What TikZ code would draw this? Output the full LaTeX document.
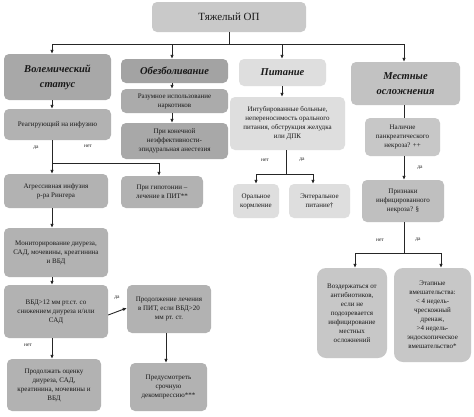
\documentclass[tikz,border=0pt]{standalone}
\usepackage{fontspec}
\setmainfont{Liberation Serif}
\usetikzlibrary{arrows.meta}
\begin{document}
\begin{tikzpicture}[x=1pt,y=-1pt,
  box/.style={draw=none, rounded corners=5pt, inner sep=0pt, align=center,
    font=\fontsize{7}{9}\selectfont, text=black!90},
  head/.style={box, font=\fontsize{10.5}{15}\selectfont\bfseries\itshape},
  ln/.style={draw=black!85, line width=0.9pt},
  arr/.style={ln, -{Latex[length=4pt,width=3.6pt]}},
  lab/.style={font=\fontsize{5.5}{6}\selectfont, inner sep=0pt, text=black!85}]
\useasboundingbox (0,0) rectangle (474,416);
\fill[white] (0,0) rectangle (474,416);
% boxes
\node[box, fill=black!21, minimum width=154, minimum height=30, font=\fontsize{11}{13}\selectfont] (top) at (229,17) {Тяжелый ОП};
\node[head, fill=black!34, minimum width=107, minimum height=46] (vol) at (57.5,77) {Волемический\\статус};
\node[head, fill=black!36, minimum width=107, minimum height=24] (obez) at (174.5,71) {Обезболивание};
\node[head, fill=black!13, minimum width=87, minimum height=27] (pit) at (282.5,72.5) {Питание};
\node[head, fill=black!24, minimum width=109, minimum height=43] (mest) at (405.5,83.5) {Местные\\осложнения};
\node[box, fill=black!30, minimum width=107, minimum height=31] (reag) at (57.5,124.5) {Реагирующий на инфузию};
\node[box, fill=black!33, minimum width=107, minimum height=24] (razum) at (174.5,101) {Разумное использование\\наркотиков};
\node[box, fill=black!34, minimum width=107, minimum height=36] (prikon) at (174.5,141) {При конечной\\неэффективности-\\эпидуральная анестезия};
\node[box, fill=black!30, minimum width=104, minimum height=34] (agr) at (56,191) {Агрессивная инфузия\\р-ра Рингера};
\node[box, fill=black!30, minimum width=82, minimum height=32] (gipo) at (162,192) {При гипотонии –\\лечение в ПИТ**};
\node[box, fill=black!30, minimum width=104, minimum height=49] (mon) at (56,252.5) {Мониторирование диуреза,\\САД, мочевины, креатинина\\и ВБД};
\node[box, fill=black!30, minimum width=104, minimum height=53] (vbd) at (56,311.5) {ВБД>12 мм рт.ст. со\\снижением диуреза и/или\\САД};
\node[box, fill=black!30, minimum width=84, minimum height=48] (prod) at (169,309) {Продолжение лечения\\в ПИТ, если ВБД>20\\мм рт. ст.};
\node[box, fill=black!30, minimum width=94, minimum height=52] (ocen) at (54,385) {Продолжать оценку\\диуреза, САД,\\креатинина, мочевины и\\ВБД};
\node[box, fill=black!30, minimum width=77, minimum height=48] (dek) at (168.5,387) {Предусмотреть\\срочную\\декомпрессию***};
\node[box, fill=black!13, minimum width=115, minimum height=53] (intub) at (287.5,123.5) {Интубированные больные,\\непереносимость орального\\питания, обструкция желудка\\или ДПК};
\node[box, fill=black!13, minimum width=46, minimum height=34] (oral) at (256,201) {Оральное\\кормление};
\node[box, fill=black!13, minimum width=61, minimum height=34] (ent) at (319.5,201) {Энтеральное\\питание†};
\node[box, fill=black!22, minimum width=75, minimum height=38] (nal) at (402.5,137) {Наличие\\панкреатического\\некроза? ++};
\node[box, fill=black!25, minimum width=82, minimum height=42] (priz) at (403,201) {Признаки\\инфицированного\\некроза? §};
\node[box, fill=black!22, minimum width=70, minimum height=90, rounded corners=9pt] (vozd) at (352,313) {Воздержаться от\\антибиотиков,\\если не\\подозревается\\инфицирование\\местных\\осложнений};
\node[box, fill=black!22, minimum width=77, minimum height=94, rounded corners=9pt] (etap) at (432.5,315) {Этапные\\вмешательства:\\< 4 недель-\\чрескожный\\дренаж,\\>4 недель-\\эндоскопическое\\вмешательство*};
% top distribution
\coordinate (hb) at (229,44);
\draw[ln] (top.south) -- (hb);
\draw[ln] (52,44) -- (404,44);
\draw[arr] (52,44) -- ([xshift=-5.5pt]vol.north);
\draw[arr] (172,44) -- ([xshift=-2.5pt]obez.north);
\draw[arr] (282,44) -- ([xshift=-0.5pt]pit.north);
\draw[arr] (404,44) -- ([xshift=-1.5pt]mest.north);
% left column
\draw[arr] ([xshift=-5.5pt]vol.south) -- ([xshift=-5.5pt]reag.north);
\coordinate (br1) at (52,163);
\draw[arr] ([xshift=-5.5pt]reag.south) -- ([xshift=-4pt]agr.north);
\draw[ln] (br1) -- (159,163);
\draw[arr] (159,163) -- ([xshift=-3pt]gipo.north);
\node[lab] (l1) at (36,148) {да};
\node[lab] (l2) at (88,146) {нет};
\draw[arr] ([xshift=-4pt]agr.south) -- ([xshift=-4pt]mon.north);
\draw[arr] ([xshift=-4pt]mon.south) -- ([xshift=-4pt]vbd.north);
\draw[arr] ([yshift=-3.5pt]vbd.east) -- (prod.west |- 0,308);
\node[lab] (l3) at (117,298) {да};
\draw[arr] ([xshift=-4pt]vbd.south) -- ([xshift=-2pt]ocen.north);
\node[lab] (l4) at (28,345) {нет};
\draw[arr] ([xshift=-3pt]prod.south) -- ([xshift=-2.5pt]dek.north);
% analgesia
\draw[arr] ([xshift=-2.5pt]obez.south) -- ([xshift=-2.5pt]razum.north);
\draw[arr] ([xshift=-2.5pt]razum.south) -- ([xshift=-2.5pt]prikon.north);
% nutrition
\draw[arr] ([xshift=-0.5pt]pit.south) -- ([xshift=-5.5pt]intub.north);
\coordinate (br2) at (286,174);
\draw[ln] ([xshift=-1.5pt]intub.south) -- (br2);
\draw[ln] (256,174) -- (313,174);
\draw[arr] (256,174) -- (oral.north);
\draw[arr] (313,174) -- ([xshift=-6.5pt]ent.north);
\node[lab] (l5) at (265,160) {нет};
\node[lab] (l6) at (302,160) {да};
% local complications
\draw[ln] ([xshift=-1.5pt]mest.south) -- ([xshift=1.5pt]nal.north);
\draw[arr] ([xshift=1.5pt]nal.south) -- ([xshift=1pt]priz.north);
\node[lab] (l7) at (420,168) {да};
\coordinate (br3) at (404,253);
\draw[ln] ([xshift=1pt]priz.south) -- (br3);
\draw[ln] (355,253) -- (441,253);
\draw[arr] (355,253) -- ([xshift=3pt]vozd.north);
\draw[arr] (441,253) -- ([xshift=8.5pt]etap.north);
\node[lab] (l8) at (380,240) {нет};
\node[lab] (l9) at (418,240) {да};
\end{tikzpicture}
\end{document}
